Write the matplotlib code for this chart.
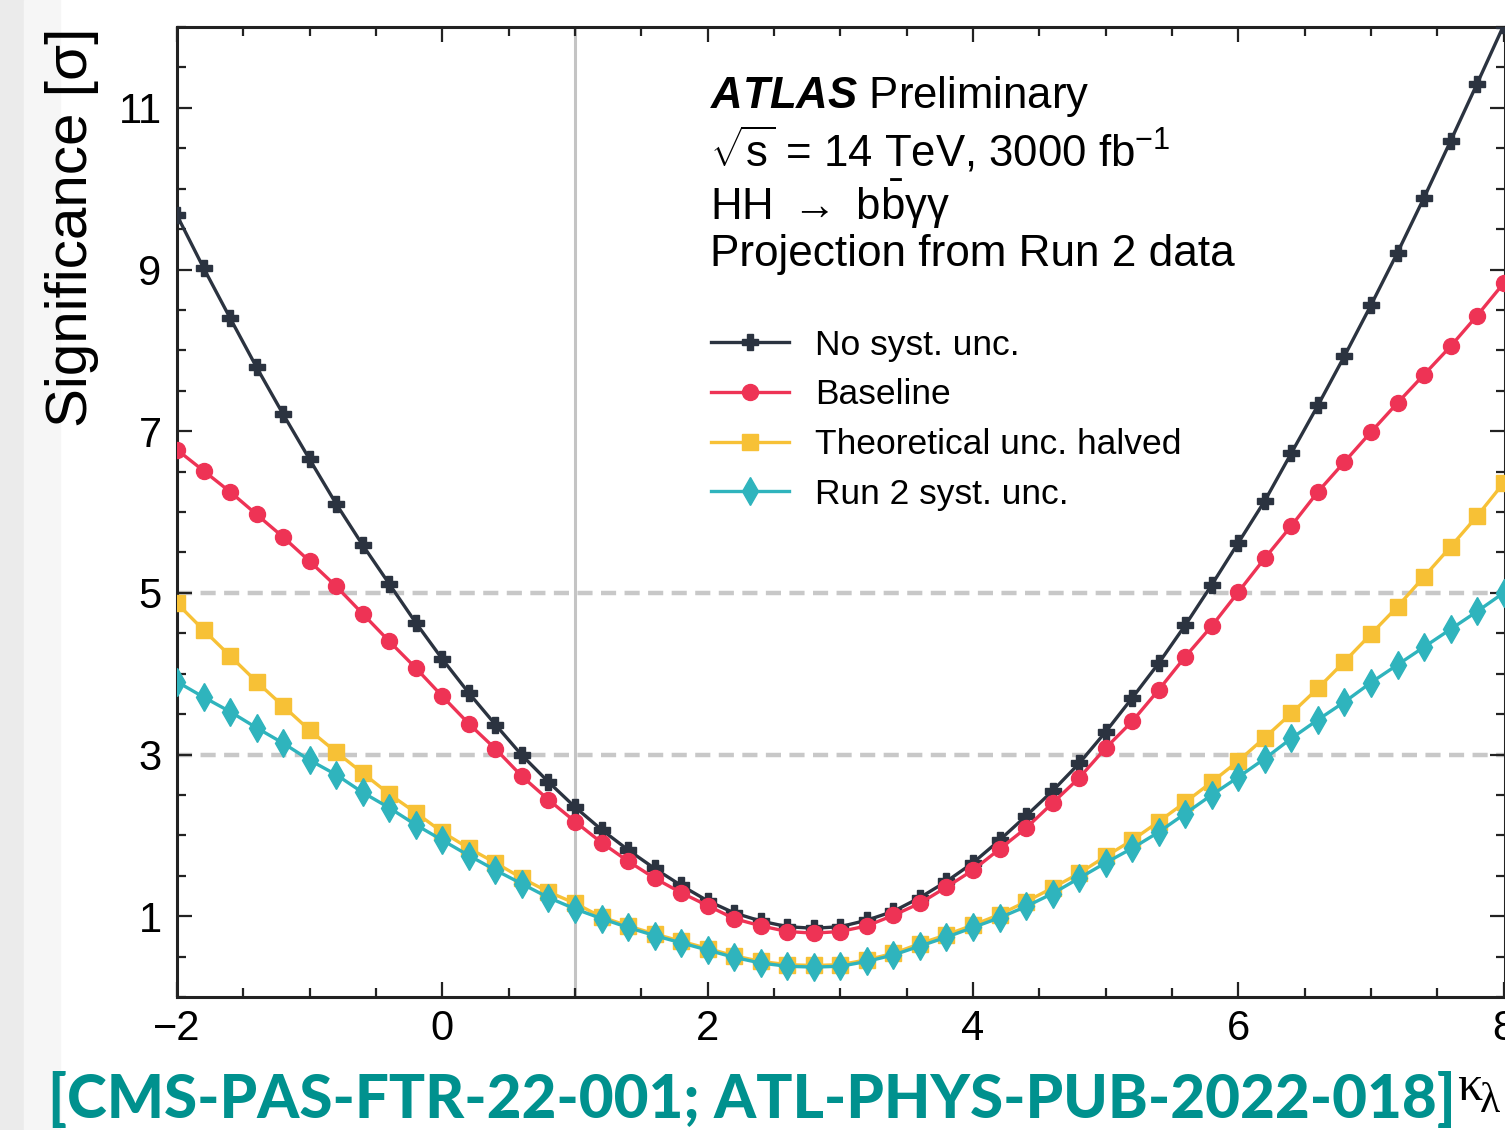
import matplotlib
matplotlib.use("Agg")
import matplotlib.pyplot as plt
from matplotlib.lines import Line2D
from matplotlib.patches import Rectangle
from matplotlib.ticker import MultipleLocator, FixedLocator

plt.rcParams["font.family"] = ["Liberation Sans", "DejaVu Sans"]
plt.rcParams["mathtext.fontset"] = "custom"
plt.rcParams["mathtext.rm"] = "Liberation Sans"
plt.rcParams["mathtext.it"] = "Liberation Sans:italic"
plt.rcParams["mathtext.bf"] = "Liberation Sans:italic:bold"

# Data -------
kappa = [-2.0, -1.8, -1.6, -1.4, -1.2, -1.0, -0.8, -0.6, -0.4, -0.2,
         0.0, 0.2, 0.4, 0.6, 0.8, 1.0, 1.2, 1.4, 1.6, 1.8,
         2.0, 2.2, 2.4, 2.6, 2.8, 3.0, 3.2, 3.4, 3.6, 3.8,
         4.0, 4.2, 4.4, 4.6, 4.8, 5.0, 5.2, 5.4, 5.6, 5.8,
         6.0, 6.2, 6.4, 6.6, 6.8, 7.0, 7.2, 7.4, 7.6, 7.8, 8.0]

no_syst = [9.67, 9.02, 8.40, 7.79, 7.21, 6.65, 6.10, 5.59, 5.11, 4.63,
           4.18, 3.76, 3.37, 2.99, 2.66, 2.35, 2.07, 1.82, 1.59, 1.38,
           1.19, 1.04, 0.94, 0.87, 0.85, 0.87, 0.95, 1.06, 1.23, 1.43,
           1.66, 1.94, 2.24, 2.55, 2.89, 3.28, 3.70, 4.13, 4.60, 5.10,
           5.62, 6.14, 6.73, 7.32, 7.93, 8.56, 9.21, 9.89, 10.59, 11.30, 12.02]

baseline = [6.77, 6.51, 6.25, 5.97, 5.69, 5.39, 5.08, 4.74, 4.40, 4.07,
            3.72, 3.38, 3.07, 2.73, 2.44, 2.17, 1.91, 1.68, 1.47, 1.29,
            1.13, 0.97, 0.88, 0.81, 0.79, 0.81, 0.88, 1.01, 1.16, 1.36,
            1.57, 1.83, 2.09, 2.40, 2.71, 3.08, 3.41, 3.80, 4.21, 4.59,
            5.01, 5.43, 5.83, 6.25, 6.62, 6.99, 7.35, 7.70, 8.05, 8.43, 8.83]

theo_halved = [4.87, 4.54, 4.22, 3.90, 3.60, 3.30, 3.03, 2.77, 2.51, 2.28,
               2.04, 1.84, 1.66, 1.47, 1.30, 1.16, 0.99, 0.88, 0.78, 0.69,
               0.60, 0.51, 0.44, 0.40, 0.39, 0.40, 0.46, 0.54, 0.66, 0.77,
               0.89, 1.02, 1.18, 1.35, 1.53, 1.74, 1.94, 2.17, 2.41, 2.66,
               2.92, 3.21, 3.51, 3.82, 4.15, 4.49, 4.83, 5.20, 5.57, 5.95, 6.36]

run2_syst = [3.90, 3.71, 3.53, 3.33, 3.14, 2.93, 2.75, 2.53, 2.34, 2.13,
             1.94, 1.75, 1.57, 1.40, 1.23, 1.09, 0.97, 0.86, 0.76, 0.67,
             0.58, 0.49, 0.42, 0.38, 0.37, 0.38, 0.44, 0.52, 0.63, 0.74,
             0.86, 0.98, 1.12, 1.28, 1.47, 1.66, 1.84, 2.04, 2.27, 2.50,
             2.72, 2.95, 3.20, 3.43, 3.65, 3.89, 4.11, 4.33, 4.55, 4.77, 5.00]

series_labels = ["No syst. unc.", "Baseline", "Theoretical unc. halved", "Run 2 syst. unc."]
series_colors = ["#2b3340", "#ee3355", "#f7c136", "#2fb4bd"]
series_markers = ["P", "o", "s", "d"]
series_msize = [12, 11.5, 11, 14]

W, H = 1505, 1130
fig = plt.figure(figsize=(W / 100, H / 100), dpi=100)

# slide background strip on the left
fig.patches.append(Rectangle((0, 0), 24 / W, 1, transform=fig.transFigure,
                             color="#ebebeb", zorder=0))
fig.patches.append(Rectangle((24 / W, 0), 36 / W, 1, transform=fig.transFigure,
                             color="#f6f6f6", zorder=0))

ax = fig.add_axes([177 / W, 1 - 997 / H, (1505 - 177) / W, (997 - 27) / H])

# reference lines
ax.axvline(1.0, color="#c4c4c4", lw=2.2, zorder=1)
for yref in [3, 5]:
    ax.axhline(yref, color="#c8c8c8", lw=3.2, ls=(0, (3.4, 1.9)), zorder=1)

all_series = [no_syst, baseline, theo_halved, run2_syst]
handles = []
for vals, lab, col, mk, ms in zip(all_series, series_labels, series_colors,
                                  series_markers, series_msize):
    ax.plot(kappa, vals, color=col, lw=2.4, marker=mk, ms=ms, mec=col,
            mfc=col, zorder=3)
    handles.append(Line2D([], [], color=col, lw=2.4, marker=mk, ms=ms,
                          mec=col, mfc=col))

ax.set_xlim(-2, 8.01)
ax.set_ylim(0, 12)
ax.xaxis.set_major_locator(MultipleLocator(2))
ax.xaxis.set_minor_locator(MultipleLocator(0.5))
ax.yaxis.set_major_locator(FixedLocator([1, 3, 5, 7, 9, 11]))
ax.yaxis.set_minor_locator(MultipleLocator(0.5))
ax.tick_params(which="both", direction="in", top=True, right=True,
               width=1.6, color="#222222")
ax.tick_params(which="major", length=11, labelsize=30)
ax.tick_params(which="minor", length=6.5)
ax.tick_params(axis="x", which="major", pad=9)
ax.tick_params(axis="y", which="major", pad=11)
for sp in ax.spines.values():
    sp.set_linewidth(2.2)
    sp.set_color("#222222")

# y label, ROOT style at the top
fig.text(72 / W, 1 - 28 / H, "Significance [σ]", rotation=90, ha="center",
         va="top", fontsize=42)

# x label at the right end
fig.text(1457 / W, 1 - 1100 / H, "κ", fontsize=36, family="Liberation Serif",
         va="baseline")
fig.text(1480 / W, 1 - 1112 / H, "λ", fontsize=30, family="Liberation Serif",
         va="baseline")

# header
hx = 710 / W
fig.text(hx, 1 - 108 / H, r"$\mathbf{ATLAS}$ Preliminary", fontsize=31.5,
         va="baseline")
fig.text(hx, 1 - 166 / H, r"$\sqrt{\mathrm{s}}$ = 14 TeV, 3000 fb$^{-1}$",
         fontsize=31.5, va="baseline")
fig.text(hx, 1 - 220 / H, r"HH $\rightarrow$ $\mathrm{b\bar{b}\gamma\gamma}$",
         fontsize=31.5, va="baseline")
fig.text(hx, 1 - 266 / H, "Projection from Run 2 data", fontsize=31.8,
         va="baseline")

leg = ax.legend(handles, series_labels, loc="upper left",
                bbox_to_anchor=(700 / W, 1 - 318 / H),
                bbox_transform=fig.transFigure, frameon=False, fontsize=25.5,
                handlelength=2.2, handletextpad=0.75, labelspacing=0.47,
                borderaxespad=0, borderpad=0.3)

# citation footer
cap = fig.text(48 / W, 1 - 1118 / H, "[CMS-PAS-FTR-22-001; ATL-PHYS-PUB-2022-018]",
               color="#00918e", fontsize=40, family="Lato", weight="black",
               va="baseline")
fig.canvas.draw()
bb = cap.get_window_extent()
cap.set_fontsize(40 * (1455 - 48) / bb.width)

fig.savefig("out.png", dpi=100, facecolor="white")
